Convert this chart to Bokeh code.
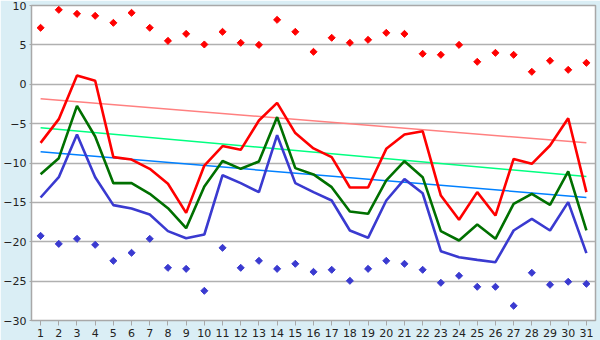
import math
from bokeh.plotting import figure
from bokeh.models import FixedTicker, ColumnDataSource
from bokeh.embed import file_html
from bokeh.resources import INLINE

days = list(range(1, 32))

red_line = [-7.44, -4.43, 1.1, 0.44, -9.25, -9.56, -10.74, -12.64, -16.33, -10.32,
            -7.85, -8.33, -4.6, -2.36, -6.2, -8.15, -9.26, -13.11, -13.11, -8.2,
            -6.38, -5.96, -14.13, -17.21, -13.7, -16.67, -9.48, -10.11, -7.78, -4.31, -13.7]
green_line = [-11.42, -9.39, -2.74, -6.63, -12.56, -12.56, -13.91, -15.74, -18.28, -12.98,
              -9.75, -10.74, -9.81, -4.17, -10.65, -11.45, -13.07, -16.16, -16.45, -12.22,
              -9.77, -11.8, -18.65, -19.84, -17.81, -19.63, -15.19, -13.91, -15.31, -11.05, -18.57]
blue_line = [-14.38, -11.8, -6.38, -11.8, -15.35, -15.78, -16.54, -18.65, -19.55, -19.08,
             -11.55, -12.56, -13.7, -6.47, -12.56, -13.7, -14.76, -18.57, -19.5, -14.76,
             -12.05, -13.84, -21.2, -21.96, -22.3, -22.6, -18.57, -17.09, -18.57, -14.97, -21.45]
red_dots = [7.17, 9.45, 8.94, 8.69, 7.8, 9.07, 7.17, 5.51, 6.4, 5.05,
            6.66, 5.26, 5.0, 8.18, 6.66, 4.12, 5.9, 5.26, 5.64, 6.53,
            6.4, 3.87, 3.74, 5.0, 2.85, 3.99, 3.74, 1.58, 2.98, 1.83, 2.72]
blue_dots = [-19.25, -20.27, -19.63, -20.39, -22.42, -21.4, -19.63, -23.31, -23.44, -26.23,
             -20.77, -23.31, -22.42, -23.44, -22.8, -23.82, -23.56, -24.96, -23.44, -22.42,
             -22.8, -23.56, -25.21, -24.32, -25.72, -25.72, -28.13, -23.94, -25.46, -25.08, -25.34]

trend_x = [1, 31]
red_trend = [-1.85, -7.44]
green_trend = [-5.53, -11.71]
blue_trend = [-8.58, -14.38]

y_ticks = [-30, -25, -20, -15, -10, -5, 0, 5, 10]

src = ColumnDataSource(dict(day=days, red=red_line, green=green_line, blue=blue_line,
                            rdot=red_dots, bdot=blue_dots))

p = figure(width=600, height=340, x_range=(0.5, 31.5), y_range=(-30, 10),
           output_backend="svg", toolbar_location=None,
           min_border_left=26, min_border_right=5, min_border_top=5, min_border_bottom=20)
p.background_fill_color = "white"
p.border_fill_color = "#DAEEF5"
p.outline_line_color = "#A8A8A8"
p.outline_line_width = 1.5

p.xgrid.visible = False
p.ygrid.grid_line_color = "#B0B0B0"
p.ygrid.grid_line_width = 1.5
p.ygrid.ticker = FixedTicker(ticks=y_ticks)

p.xaxis.ticker = FixedTicker(ticks=days)
p.yaxis.ticker = FixedTicker(ticks=y_ticks)
for ax in (p.xaxis[0], p.yaxis[0]):
    ax.axis_line_color = "#A8A8A8"
    ax.major_tick_line_color = "#A8A8A8"
    ax.minor_tick_line_color = None
    ax.major_label_text_font = "DejaVu Sans"
    ax.major_label_text_font_size = "11px"
    ax.major_label_text_color = "#222222"
p.xaxis.major_tick_in = 0
p.xaxis.major_tick_out = 5
p.xaxis.major_label_standoff = 3
p.yaxis.major_tick_in = 0
p.yaxis.major_tick_out = 2
p.yaxis.major_label_standoff = 3

p.line(trend_x, red_trend, line_color="#FF8080", line_width=1.5)
p.line(trend_x, green_trend, line_color="#00FF80", line_width=1.5)
p.line(trend_x, blue_trend, line_color="#0080FF", line_width=1.5)

p.line("day", "blue", source=src, line_color="#3A3AD0", line_width=2.6)
p.line("day", "green", source=src, line_color="#007000", line_width=2.6)
p.line("day", "red", source=src, line_color="#FF0000", line_width=2.6)

p.scatter("day", "rdot", source=src, marker="square", angle=math.pi / 4, size=5,
          fill_color="#FF0000", line_color="#FF0000", line_width=1)
p.scatter("day", "bdot", source=src, marker="square", angle=math.pi / 4, size=5,
          fill_color="#3A3AD0", line_color="#3A3AD0", line_width=1)

open("out.html", "w").write(file_html(p, INLINE))
